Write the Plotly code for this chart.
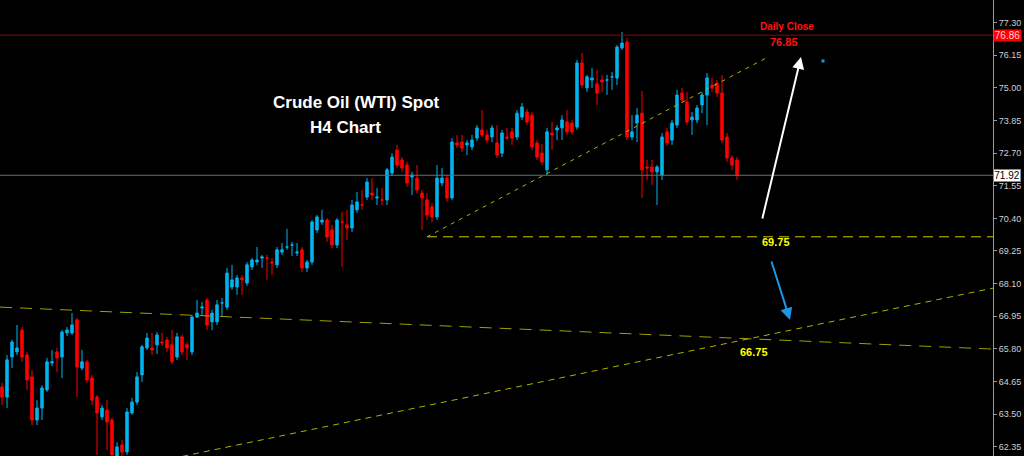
import plotly.graph_objects as go

# ---------------- data (prices) ----------------
opens = [64.45, 64.10, 65.51, 65.69, 66.46, 65.58, 64.81, 63.29, 63.71, 64.35,
         65.30, 65.69, 65.51, 66.36, 66.36, 66.82, 65.12, 65.34, 64.77, 64.10,
         63.40, 63.64, 63.29, 62.02, 62.41, 62.16, 63.54, 63.92, 64.88, 65.83,
         65.83, 65.94, 66.04, 66.11, 65.94, 65.51, 66.22, 65.94, 65.69, 66.92,
         67.24, 67.52, 66.75, 66.75, 67.42, 67.27, 67.98, 67.98, 68.30, 68.12,
         68.69, 68.86, 69.00, 69.00, 68.86, 68.76, 69.21, 69.39, 69.46, 69.18,
         69.29, 68.65, 68.86, 69.99, 70.27, 70.34, 69.99, 69.46, 70.27, 70.17,
         70.06, 70.70, 70.87, 71.15, 71.29, 71.12, 71.05, 71.05, 72.00, 72.81,
         72.46, 72.28, 71.86, 71.82, 71.29, 71.05, 70.80, 70.45, 71.65, 71.82,
         71.12, 73.06, 73.09, 72.99, 72.92, 73.23, 73.52, 73.34, 73.27, 73.06,
         72.70, 73.27, 73.45, 73.27, 73.97, 74.15, 74.04, 73.06, 72.70, 72.11,
         73.41, 73.52, 73.59, 73.80, 73.76, 73.62, 75.88, 75.00, 75.28, 75.14,
         75.28, 75.28, 75.39, 75.35, 76.41, 76.62, 73.27, 73.76, 74.11, 72.21,
         72.21, 72.04, 71.93, 73.45, 73.16, 73.69, 74.82, 74.50, 73.87, 73.87,
         74.40, 74.75, 75.10, 75.17, 74.82, 73.27, 72.53, 72.46]
highs = [64.60, 65.58, 66.11, 66.64, 66.57, 65.69, 65.05, 63.99, 64.52, 65.48,
         65.76, 65.83, 66.46, 66.57, 67.06, 66.89, 65.76, 65.41, 64.88, 64.17,
         63.82, 63.99, 63.36, 62.51, 62.58, 63.71, 64.07, 64.98, 65.94, 66.36,
         66.36, 66.39, 66.36, 66.22, 66.46, 66.36, 66.29, 66.04, 66.99, 67.52,
         67.45, 67.59, 67.17, 67.52, 67.59, 68.65, 68.76, 68.40, 68.40, 68.86,
         69.00, 69.39, 69.11, 69.11, 69.00, 69.39, 69.53, 70.03, 69.57, 69.53,
         69.39, 68.93, 70.34, 70.52, 70.70, 70.41, 70.17, 70.41, 70.62, 70.70,
         71.05, 71.33, 71.40, 71.82, 71.82, 71.47, 71.47, 72.18, 72.70, 72.99,
         72.56, 72.39, 72.04, 72.28, 71.40, 71.29, 70.94, 72.28, 72.18, 71.93,
         73.23, 73.34, 73.34, 73.16, 73.34, 73.69, 74.22, 73.52, 73.69, 73.69,
         73.52, 73.59, 73.59, 74.22, 74.47, 74.26, 74.15, 73.16, 73.02, 73.59,
         73.80, 73.69, 74.04, 74.22, 73.87, 75.98, 76.23, 75.46, 75.70, 75.63,
         75.46, 75.46, 75.56, 76.51, 76.97, 76.76, 74.04, 74.29, 74.89, 72.46,
         72.46, 72.28, 73.41, 73.59, 73.87, 74.93, 75.00, 74.86, 74.15, 74.40,
         74.86, 75.53, 75.35, 75.28, 75.46, 73.41, 72.63, 72.56]
lows = [63.82, 63.71, 65.12, 65.58, 65.34, 64.35, 63.11, 63.11, 63.29, 64.28,
        65.19, 64.98, 64.77, 66.25, 66.29, 64.10, 65.05, 64.60, 63.82, 62.05,
        63.29, 62.23, 61.95, 61.88, 61.95, 62.06, 63.47, 63.82, 64.63, 65.76,
        65.58, 65.62, 65.90, 65.69, 65.27, 65.41, 65.58, 65.41, 65.58, 66.89,
        66.96, 66.46, 66.46, 66.64, 66.96, 67.17, 67.88, 67.70, 67.70, 68.02,
        68.58, 68.76, 68.65, 68.23, 68.40, 68.65, 69.11, 69.29, 69.07, 69.07,
        68.51, 68.51, 68.76, 69.88, 70.17, 69.57, 69.35, 69.35, 68.69, 69.64,
        69.92, 70.59, 70.70, 71.05, 71.05, 70.87, 70.87, 70.87, 71.89, 72.18,
        72.04, 71.51, 71.22, 71.29, 69.99, 70.34, 70.27, 70.34, 71.54, 70.98,
        71.05, 72.88, 72.74, 72.63, 72.81, 73.13, 73.27, 73.06, 73.09, 72.53,
        72.56, 73.16, 72.99, 73.16, 73.87, 73.69, 72.81, 72.46, 72.28, 71.93,
        72.81, 73.16, 73.16, 73.34, 73.34, 73.52, 75.00, 74.86, 75.00, 74.40,
        74.86, 74.75, 74.93, 75.10, 76.34, 73.16, 73.16, 73.09, 71.12, 71.75,
        71.58, 70.87, 71.75, 72.95, 72.99, 73.59, 74.47, 73.69, 73.34, 73.76,
        74.11, 73.69, 74.86, 74.68, 73.06, 72.39, 72.11, 71.75]
closes = [64.10, 65.41, 66.04, 65.83, 65.51, 64.70, 63.29, 63.71, 64.42, 65.34,
          65.34, 65.48, 66.39, 66.46, 66.64, 65.16, 65.34, 64.70, 63.99, 63.54,
          63.71, 63.22, 62.06, 62.34, 62.16, 63.57, 63.92, 64.81, 65.87, 66.18,
          65.76, 66.29, 66.01, 65.83, 65.34, 66.22, 65.69, 65.83, 66.92, 67.06,
          67.27, 66.64, 67.06, 67.35, 67.42, 68.47, 68.23, 68.30, 68.23, 68.76,
          68.93, 68.93, 69.04, 69.00, 68.83, 69.29, 69.29, 69.39, 69.46, 69.21,
          68.65, 68.86, 70.27, 70.45, 70.34, 69.74, 69.46, 70.34, 70.27, 70.06,
          70.87, 70.98, 70.87, 71.68, 71.22, 71.15, 71.05, 72.11, 72.56, 72.28,
          72.18, 71.65, 71.93, 71.40, 71.12, 70.52, 70.45, 71.82, 71.82, 71.12,
          73.09, 72.99, 72.88, 73.06, 73.16, 73.59, 73.34, 73.16, 73.59, 72.63,
          73.41, 73.23, 73.23, 74.11, 74.33, 73.80, 72.92, 72.56, 72.39, 73.45,
          73.34, 73.59, 73.87, 73.45, 73.45, 75.88, 75.10, 75.39, 75.35, 74.82,
          75.21, 75.28, 75.39, 76.44, 76.58, 73.27, 73.45, 74.04, 72.11, 72.18,
          72.04, 72.21, 73.27, 73.06, 73.76, 74.75, 74.57, 73.80, 73.97, 74.29,
          74.75, 75.35, 75.00, 74.82, 73.16, 72.53, 72.28, 71.92]
bars = list(range(len(closes)))

tick_vals = [77.30, 76.15, 75.00, 73.85, 72.70, 71.55, 70.40,
             69.25, 68.10, 66.95, 65.80, 64.65, 63.50, 62.35]
tick_text = ["%.2f" % v for v in tick_vals]

daily_close_line = 76.86
daily_close_label = 76.85
last_price = 71.92
support_level = 69.75
target_level = 66.75

# trend lines: (bar index, price) end points
rising_trend_x = [85.0, 153.2]
rising_trend_y = [69.75, 76.09]
support_x = [85.0, 198.2]
falling_long_x = [-0.4, 198.2]
falling_long_y = [67.27, 65.79]
rising_long_x = [29.6, 198.2]
rising_long_y = [61.77, 67.94]

# arrows: (tail bar, tail price) -> (head bar, head price)
up_arrow = [(152.0, 70.34), (159.8, 76.09)]
down_arrow = [(153.8, 68.93), (157.6, 66.82)]
marker_pt = (164.2, 75.95)

X_RANGE = [-0.4, 198.2]
Y_RANGE = [62.02, 78.10]

fig = go.Figure()

fig.add_trace(go.Candlestick(
    x=bars, open=opens, high=highs, low=lows, close=closes,
    increasing=dict(line=dict(color="#00b4f0", width=1), fillcolor="#00b4f0"),
    decreasing=dict(line=dict(color="#ff0000", width=1), fillcolor="#ff0000"),
    whiskerwidth=0, showlegend=False, hoverinfo="skip"))

def line(xs, ys, color, dash, width=1):
    fig.add_trace(go.Scatter(x=xs, y=ys, mode="lines", showlegend=False,
                             hoverinfo="skip",
                             line=dict(color=color, width=width, dash=dash)))

# horizontal levels
line(X_RANGE, [daily_close_line] * 2, "#9a0000", "solid")
line(X_RANGE, [last_price] * 2, "#6e6e6e", "solid")
line(support_x, [support_level] * 2, "#c8c800", "10px,6px")
line(rising_trend_x, rising_trend_y, "#b4b400", "4px,5px")
line(falling_long_x, falling_long_y, "#a0a000", "12px,8px")
line(rising_long_x, rising_long_y, "#b0b000", "6px,5px")

fig.add_trace(go.Scatter(x=[marker_pt[0]], y=[marker_pt[1]], mode="markers",
                         marker=dict(symbol="square", size=3, color="#1e96e6"),
                         showlegend=False, hoverinfo="skip"))

bold = "Liberation Sans, Arial, sans-serif"
ann = []
ann.append(dict(x=up_arrow[1][0], y=up_arrow[1][1], ax=up_arrow[0][0], ay=up_arrow[0][1],
                xref="x", yref="y", axref="x", ayref="y", text="", showarrow=True,
                arrowhead=2, arrowsize=1.2, arrowwidth=2, arrowcolor="#ffffff"))
ann.append(dict(x=down_arrow[1][0], y=down_arrow[1][1], ax=down_arrow[0][0], ay=down_arrow[0][1],
                xref="x", yref="y", axref="x", ayref="y", text="", showarrow=True,
                arrowhead=2, arrowsize=1.2, arrowwidth=2, arrowcolor="#1e96e6"))
ann.append(dict(x=157, y=77.15, xref="x", yref="y", text="<b>Daily Close</b>",
                showarrow=False, font=dict(family=bold, size=10, color="#ff1010")))
ann.append(dict(x=156.4, y=76.62, xref="x", yref="y", text="<b>%.2f</b>" % daily_close_label,
                showarrow=False, font=dict(family=bold, size=11, color="#ff1010")))
ann.append(dict(x=70.8, y=74.47, xref="x", yref="y", text="<b>Crude Oil (WTI) Spot</b>",
                showarrow=False, font=dict(family=bold, size=17, color="#ffffff")))
ann.append(dict(x=68.6, y=73.62, xref="x", yref="y", text="<b>H4 Chart</b>",
                showarrow=False, font=dict(family=bold, size=17, color="#ffffff")))
ann.append(dict(x=154.8, y=69.55, xref="x", yref="y", text="<b>%.2f</b>" % support_level,
                showarrow=False, font=dict(family=bold, size=11, color="#ffff00")))
ann.append(dict(x=150.4, y=65.68, xref="x", yref="y", text="<b>%.2f</b>" % target_level,
                showarrow=False, font=dict(family=bold, size=11, color="#ffff00")))
# price tags on the axis
ann.append(dict(x=1, y=daily_close_line, xref="paper", yref="y", xanchor="left",
                text="%.2f" % daily_close_line, showarrow=False, bgcolor="#ff0000",
                width=27, borderpad=0, font=dict(family=bold, size=10, color="#ffd0d0")))
ann.append(dict(x=1, y=last_price, xref="paper", yref="y", xanchor="left",
                text="%.2f" % last_price, showarrow=False, bgcolor="#ffffff",
                bordercolor="#888888", borderwidth=1, width=26, borderpad=0,
                font=dict(family=bold, size=10, color="#000000")))

fig.update_layout(
    width=1024, height=456,
    margin=dict(l=0, r=31, t=0, b=0),
    paper_bgcolor="#000000", plot_bgcolor="#000000",
    annotations=ann,
    xaxis=dict(range=X_RANGE, visible=False, rangeslider=dict(visible=False),
               showgrid=False, zeroline=False),
    yaxis=dict(range=Y_RANGE, side="right", tickvals=tick_vals, ticktext=tick_text,
               showgrid=False, zeroline=False, showline=True, linecolor="#9a9a9a",
               linewidth=1, ticks="outside", ticklen=3, tickcolor="#9a9a9a",
               automargin=False,
               tickfont=dict(family=bold, size=9, color="#d0d0d0")),
    showlegend=False,
)

fig.write_html("out.html", config={"displayModeBar": False},
               post_script="document.body.style.margin='0px';"
                           "document.body.style.background='#000000';")
